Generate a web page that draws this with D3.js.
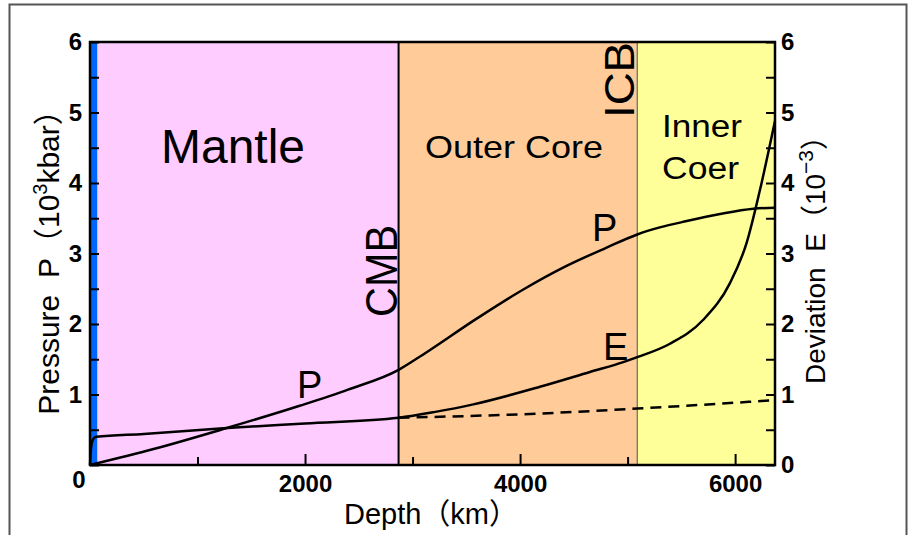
<!DOCTYPE html>
<meta charset="utf-8">
<script src="https://d3js.org/d3.v7.min.js"></script>
<style>
  body { margin: 0; background: #fff; }
  text { font-family: "Liberation Sans", Arial, "Noto Sans CJK JP", sans-serif; }
</style>
<div id="chart"></div>
<script>

// depth boundaries of the layers (km)
var layerNames = ["Crust", "Mantle", "Outer Core", "Inner Core"];
var layerFrom  = [0, 70, 2870, 5090];
var layerTo    = [70, 2870, 5090, 6371];

// pressure P (10^3 kbar) against depth
var pDepth = [0, 600, 1240, 1950, 2400, 2870, 3040, 3600, 4030, 4400, 4800, 5090, 5300, 5550, 5860, 6170, 6371];
var pValue = [0, 0.23, 0.51, 0.84, 1.07, 1.35, 1.51, 2.08, 2.49, 2.80, 3.08, 3.27, 3.37, 3.46, 3.56, 3.635, 3.65];

// deviation E (10^-3) against depth
var eDepth = [0, 5, 15, 30, 60, 500, 1240, 2000, 2870, 3200, 3565, 4185, 4650, 4960, 5090, 5394, 5704, 5952, 6107, 6231, 6371];
var eValue = [0, 0.15, 0.30, 0.37, 0.40, 0.44, 0.52, 0.59, 0.67, 0.75, 0.86, 1.11, 1.32, 1.46, 1.53, 1.72, 2.06, 2.58, 3.15, 3.90, 4.88];

// dashed continuation of E below the CMB
var eDashDepth = [2870, 4185, 5090, 6371];
var eDashValue = [0.67, 0.73, 0.80, 0.92];

// ticks
var xMajor = [2000, 4000, 6000];
var xMinor = [1000, 3000, 5000];
var yTicks = [0, 0.5, 1, 1.5, 2, 2.5, 3, 3.5, 4, 4.5, 5, 5.5, 6];

var layerColor = {"Crust": "#0066ff", "Mantle": "#ffccff", "Outer Core": "#ffcc99", "Inner Core": "#ffff99"};

var W = 916, H = 535;
var m = {left: 90, right: 775, top: 42, bottom: 465};

var svg = d3.select("#chart").append("svg")
    .attr("width", W)
    .attr("height", H);

// outer frame
svg.append("rect")
    .attr("x", 9.5).attr("y", 4.5)
    .attr("width", 897).attr("height", 545)
    .attr("fill", "#fff")
    .attr("stroke", "#555")
    .attr("stroke-width", 2);

var x = d3.scaleLinear().domain([0, 6371]).range([m.left, m.right]);
var y = d3.scaleLinear().domain([0, 6]).range([m.bottom, m.top]);

// layer bands
svg.selectAll(".band")
  .data(layerNames)
  .enter().append("rect")
    .attr("class", "band")
    .attr("x", function(d, i) { return x(layerFrom[i]); })
    .attr("width", function(d, i) { return x(layerTo[i]) - x(layerFrom[i]); })
    .attr("y", m.top)
    .attr("height", m.bottom - m.top)
    .attr("fill", function(d) { return layerColor[d]; });

// CMB and ICB lines
svg.append("line")
    .attr("x1", x(layerFrom[2])).attr("x2", x(layerFrom[2]))
    .attr("y1", m.top).attr("y2", m.bottom)
    .attr("stroke", "#000").attr("stroke-width", 2);
svg.append("line")
    .attr("x1", x(layerFrom[3])).attr("x2", x(layerFrom[3]))
    .attr("y1", m.top).attr("y2", m.bottom)
    .attr("stroke", "#666").attr("stroke-width", 1.2);

// axes (ticks point inward)
var tickFont = function(g) {
  g.select(".domain").remove();
  g.selectAll(".tick line").attr("stroke", "#000").attr("stroke-width", 2);
  g.selectAll(".tick text")
    .attr("fill", "#000")
    .style("font-size", "24px")
    .style("font-weight", "bold");
};

svg.append("g")
    .attr("transform", "translate(" + m.left + ",0)")
    .call(d3.axisLeft(y).tickValues(yTicks).tickSizeInner(-9).tickSizeOuter(0).tickPadding(8)
      .tickFormat(function(d) { return (d > 0 && d % 1 === 0) ? d : ""; }))
    .call(tickFont);

svg.append("g")
    .attr("transform", "translate(" + m.right + ",0)")
    .call(d3.axisRight(y).tickValues(yTicks).tickSizeInner(-9).tickSizeOuter(0).tickPadding(6)
      .tickFormat(function(d) { return d % 1 === 0 ? d : ""; }))
    .call(tickFont);

svg.append("g")
    .attr("transform", "translate(0," + m.bottom + ")")
    .call(d3.axisBottom(x).tickValues(xMajor).tickSizeInner(-11).tickSizeOuter(0).tickPadding(10)
      .tickFormat(d3.format("d")))
    .call(tickFont);

svg.append("g")
    .attr("transform", "translate(0," + m.bottom + ")")
    .call(d3.axisBottom(x).tickValues(xMinor).tickSizeInner(-8).tickSizeOuter(0).tickFormat(""))
    .call(tickFont);

// the shared zero at the corner
svg.append("text")
    .attr("x", x(0) - 11).attr("y", 488)
    .attr("text-anchor", "middle")
    .style("font-size", "24px").style("font-weight", "bold")
    .text("0");

// curves
var line = d3.line()
    .x(function(d) { return x(d[0]); })
    .y(function(d) { return y(d[1]); })
    .curve(d3.curveMonotoneX);

var pts = function(a, b) { return a.map(function(v, i) { return [v, b[i]]; }); };

svg.append("path")
    .datum(pts(eDashDepth, eDashValue))
    .attr("d", line)
    .attr("fill", "none").attr("stroke", "#000").attr("stroke-width", 2.5)
    .attr("stroke-dasharray", "11,7");

svg.append("path")
    .datum(pts(pDepth, pValue))
    .attr("d", line)
    .attr("fill", "none").attr("stroke", "#000").attr("stroke-width", 2.5);

svg.append("path")
    .datum(pts(eDepth, eValue))
    .attr("d", line)
    .attr("fill", "none").attr("stroke", "#000").attr("stroke-width", 2.5);

// plot frame
svg.append("rect")
    .attr("x", m.left).attr("y", m.top)
    .attr("width", m.right - m.left).attr("height", m.bottom - m.top)
    .attr("fill", "none").attr("stroke", "#000").attr("stroke-width", 2.5);

// region labels
svg.append("text")
    .attr("x", 233).attr("y", 163)
    .attr("text-anchor", "middle")
    .style("font-size", "48px")
    .text("Mantle");

svg.append("text")
    .attr("x", 425).attr("y", 158)
    .attr("textLength", 178).attr("lengthAdjust", "spacingAndGlyphs")
    .style("font-size", "32px")
    .text("Outer Core");

svg.append("text")
    .attr("x", 662).attr("y", 137)
    .attr("textLength", 80).attr("lengthAdjust", "spacingAndGlyphs")
    .style("font-size", "31px")
    .text("Inner");
svg.append("text")
    .attr("x", 662).attr("y", 179)
    .attr("textLength", 77).attr("lengthAdjust", "spacingAndGlyphs")
    .style("font-size", "31px")
    .text("Coer");

svg.append("text")
    .attr("transform", "translate(397,271) rotate(-90)")
    .attr("text-anchor", "middle")
    .attr("textLength", 92).attr("lengthAdjust", "spacingAndGlyphs")
    .style("font-size", "44px")
    .text("CMB");

svg.append("text")
    .attr("transform", "translate(634,80) rotate(-90)")
    .attr("text-anchor", "middle")
    .attr("textLength", 76).attr("lengthAdjust", "spacingAndGlyphs")
    .style("font-size", "42px")
    .text("ICB");

// curve labels
svg.append("text").attr("x", 297).attr("y", 398).style("font-size", "38px").text("P");
svg.append("text").attr("x", 592).attr("y", 241).style("font-size", "38px").text("P");
svg.append("text").attr("x", 603).attr("y", 360).style("font-size", "38px").text("E");

// axis titles
var yl = svg.append("text")
    .attr("transform", "translate(59,255) rotate(-90)")
    .attr("text-anchor", "middle")
    .style("font-size", "30px");
yl.append("tspan").text("Pressure\u00a0\u00a0P（10");
yl.append("tspan").attr("dy", -12).style("font-size", "20px").text("3");
yl.append("tspan").attr("dy", 12).text("kbar）");

var yr = svg.append("text")
    .attr("transform", "translate(825,253) rotate(-90)")
    .attr("text-anchor", "middle")
    .style("font-size", "28px");
yr.append("tspan").text("Deviation\u00a0\u00a0E（10");
yr.append("tspan").attr("dy", -12).style("font-size", "21px").text("−3");
yr.append("tspan").attr("dy", 12).text("）");

svg.append("text")
    .attr("x", 431).attr("y", 524)
    .attr("text-anchor", "middle")
    .style("font-size", "29px")
    .text("Depth（km）");

</script>
